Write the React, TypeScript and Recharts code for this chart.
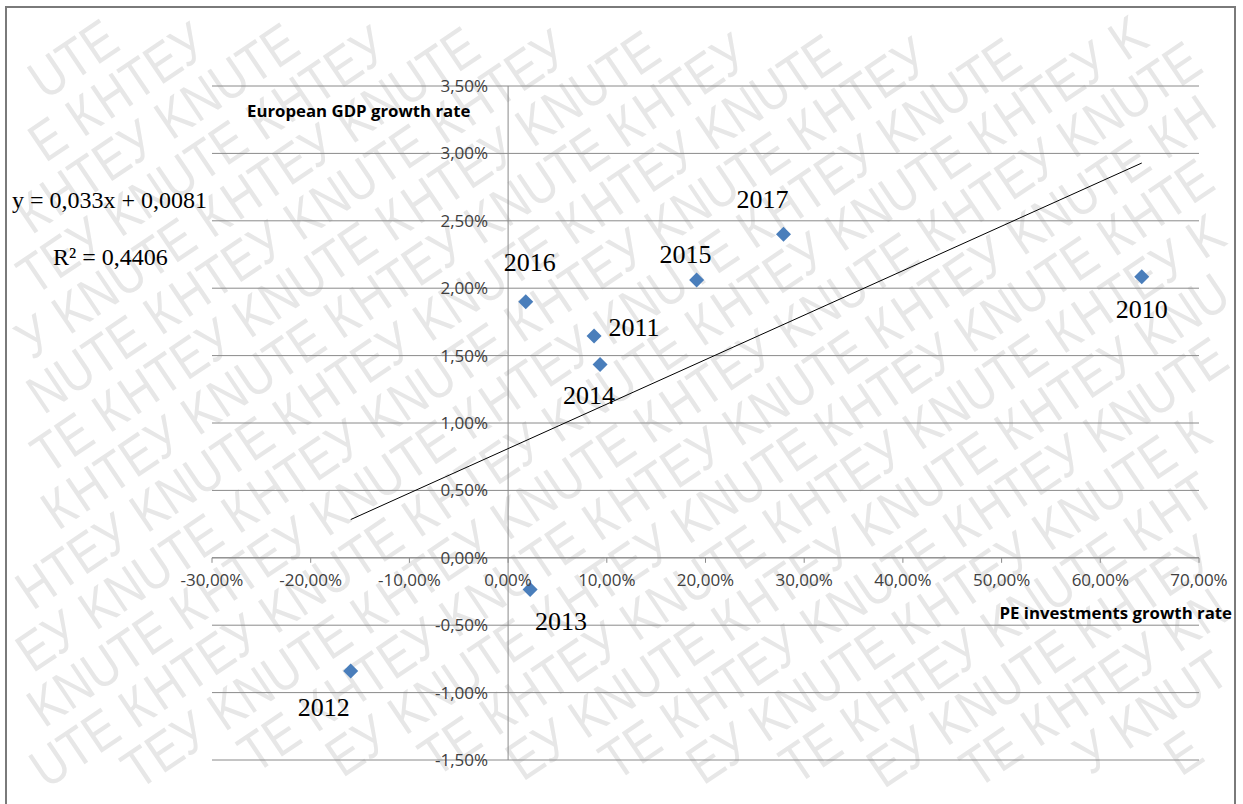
import React from 'react';
import {
  ScatterChart,
  Scatter,
  XAxis,
  YAxis,
  CartesianGrid,
  ReferenceLine,
} from 'recharts';

// Years and growth rates (fractions) for each observation
const years = ['2010', '2011', '2012', '2013', '2014', '2015', '2016', '2017'];
const peGrowth = [0.642, 0.0871, -0.1595, 0.0223, 0.0932, 0.191, 0.0179, 0.279];
const gdpGrowth = [0.02085, 0.01645, -0.0084, -0.00235, 0.01434, 0.0206, 0.019, 0.024];

// Linear trend y = a·x + b, as printed next to the chart
const TREND_SLOPE = 0.033;
const TREND_INTERCEPT = 0.0081;
const R_SQUARED = '0,4406';

// Axis ticks
const xTicks = [-0.3, -0.2, -0.1, 0, 0.1, 0.2, 0.3, 0.4, 0.5, 0.6, 0.7];
const yTicks = [-0.015, -0.01, -0.005, 0, 0.005, 0.01, 0.015, 0.02, 0.025, 0.03, 0.035];

const X_MIN = -0.3;
const X_MAX = 0.7;
const Y_MIN = -0.015;
const Y_MAX = 0.035;

// Layout
const W = 1243;
const H = 804;
const AXIS_SIZE = 1; // axes are drawn at the origin, so they take no room
const MARGIN = { top: 86, right: 44, bottom: 44 - AXIS_SIZE, left: 212 - AXIS_SIZE };
const PLOT_LEFT = 212;
const PLOT_W = W - PLOT_LEFT - 44;
const PLOT_H = H - 86 - 44;
// pixel position where the axes cross (value 0 on each axis)
const X_ZERO = PLOT_LEFT + (PLOT_W * (0 - X_MIN)) / (X_MAX - X_MIN);
const Y_ZERO = 86 + (PLOT_H * (Y_MAX - 0)) / (Y_MAX - Y_MIN);

const BLUE = '#4A7EBB';
const GRID = '#8a8a8a';
const TICK_COLOR = '#404040';
const SANS = '"Open Sans", "Noto Sans", sans-serif';
const SERIF = '"Liberation Serif", "Times New Roman", serif';

// Year label placement relative to its marker (text centre)
const labelOffset: Record<string, [number, number]> = {
  '2010': [0, 32],
  '2011': [40, -9],
  '2012': [-27, 36],
  '2013': [31, 32],
  '2014': [-11, 31],
  '2015': [-11, -26],
  '2016': [4, -40],
  '2017': [-21, -35],
};

const points = years.map((year, i) => ({ year, x: peGrowth[i], y: gdpGrowth[i] }));

const xLo = Math.min(...peGrowth);
const xHi = Math.max(...peGrowth);
const trend = [
  { x: xLo, y: TREND_SLOPE * xLo + TREND_INTERCEPT },
  { x: xHi, y: TREND_SLOPE * xHi + TREND_INTERCEPT },
];

const pct = (v: number) => {
  const s = (Math.abs(v) < 1e-12 ? 0 : v * 100).toFixed(2).replace('.', ',');
  return `${s}%`;
};

const DiamondMarker = (props: any) => {
  const { cx, cy, payload } = props;
  if (cx == null || cy == null) return <g />;
  const r = 7.5;
  const [dx, dy] = labelOffset[payload.year] || [0, 0];
  return (
    <g>
      <polygon
        points={`${cx},${cy - r} ${cx + r},${cy} ${cx},${cy + r} ${cx - r},${cy}`}
        fill={BLUE}
      />
      <text
        x={cx + dx}
        y={cy + dy + 9}
        textAnchor="middle"
        fontFamily={SERIF}
        fontSize={26}
        fill="#000"
      >
        {payload.year}
      </text>
    </g>
  );
};

const NoMarker = () => <g />;

const XTick = (props: any) => {
  const { x, payload } = props;
  return (
    <g>
      <line x1={x} x2={x} y1={Y_ZERO} y2={Y_ZERO + 5} stroke={GRID} strokeWidth={1} />
      <text
        x={x}
        y={Y_ZERO + 28}
        textAnchor="middle"
        fontFamily={SANS}
        fontSize={17}
        fill={TICK_COLOR}
      >
        {pct(payload.value)}
      </text>
    </g>
  );
};

const YTick = (props: any) => {
  const { y, payload } = props;
  return (
    <text
      x={X_ZERO - 20}
      y={y + 6}
      textAnchor="end"
      fontFamily={SANS}
      fontSize={17}
      fill={TICK_COLOR}
    >
      {pct(payload.value)}
    </text>
  );
};

// Diagonal "KNUTE КНТЕУ" watermark behind the chart.
// Laid out letter by letter so that only glyphs whose whole em box lies on the page are drawn.
const WM_PHRASE = 'KNUTE КНТЕУ ';
const WM_ANGLE = -34;
const WM_SIZE = 55;
const WM_SQUEEZE = 0.85;
const WM_ROW = 52;
const WM_ASCENT = WM_SIZE * 0.92;
const WM_DESCENT = WM_SIZE * 0.23;
const WM_ADV_EM: Record<string, number> = {
  K: 0.667, N: 0.722, U: 0.722, T: 0.611, E: 0.667,
  К: 0.667, Н: 0.722, Т: 0.611, Е: 0.667, У: 0.65, ' ': 0.3,
};

const Watermark = () => {
  const a = (WM_ANGLE * Math.PI) / 180;
  const cos = Math.cos(a);
  const sin = Math.sin(a);
  const cx = W / 2;
  const cy = H / 2;
  const toScreen = (u: number, v: number) => [cx + u * cos - v * sin, cy + u * sin + v * cos];
  const letters: React.ReactNode[] = [];
  const chars = Array.from(WM_PHRASE);
  const phraseLen = chars.reduce((s, ch) => s + WM_ADV_EM[ch] * WM_SIZE * WM_SQUEEZE, 0);
  for (let r = -16; r <= 16; r++) {
    const v = r * WM_ROW;
    let u = -1100 - ((((r * 97) % phraseLen) + phraseLen) % phraseLen);
    let k = 0;
    while (u < 1100) {
      const ch = chars[k % chars.length];
      const adv = WM_ADV_EM[ch] * WM_SIZE * WM_SQUEEZE;
      if (ch !== ' ') {
        const corners = [
          toScreen(u, v + WM_DESCENT),
          toScreen(u + adv, v + WM_DESCENT),
          toScreen(u, v - WM_ASCENT),
          toScreen(u + adv, v - WM_ASCENT),
        ];
        const inside = corners.every(([px, py]) => px >= 2 && px <= W - 2 && py >= 2 && py <= H - 2);
        if (inside) {
          const [sx, sy] = toScreen(u, v);
          letters.push(
            <text
              key={`${r}_${k}`}
              transform={`translate(${sx.toFixed(1)} ${sy.toFixed(1)}) rotate(${WM_ANGLE}) scale(${WM_SQUEEZE} 1)`}
              fontFamily='"Liberation Sans", Arial, sans-serif'
              fontSize={WM_SIZE}
              fill="#e7e7e7"
            >
              {ch}
            </text>
          );
        }
      }
      u += adv;
      k += 1;
    }
  }
  return (
    <svg width={W} height={H} style={{ position: 'absolute', left: 0, top: 0 }}>
      <rect x={0} y={0} width={W} height={H} fill="#fff" />
      <g>{letters}</g>
      <rect x={6} y={7} width={1229} height={820} fill="none" stroke="#7a7a7a" strokeWidth={2} />
    </svg>
  );
};

export default function App() {
  return (
    <div style={{ position: 'absolute', left: 0, top: 0, width: W, height: H, overflow: 'hidden' }}>
      <Watermark />
      <div style={{ position: 'absolute', left: 0, top: 0 }}>
        <ScatterChart width={W} height={H} margin={MARGIN}>
          <CartesianGrid vertical={false} stroke={GRID} strokeWidth={1} />
          <XAxis
            type="number"
            dataKey="x"
            domain={[X_MIN, X_MAX]}
            ticks={xTicks}
            interval={0}
            height={AXIS_SIZE}
            axisLine={false}
            tickLine={false}
            tick={<XTick />}
            allowDataOverflow
          />
          <YAxis
            type="number"
            dataKey="y"
            domain={[Y_MIN, Y_MAX]}
            ticks={yTicks}
            interval={0}
            width={AXIS_SIZE}
            axisLine={false}
            tickLine={false}
            tick={<YTick />}
            allowDataOverflow
          />
          <ReferenceLine x={0} stroke={GRID} strokeWidth={1} />
          <ReferenceLine y={0} stroke={GRID} strokeWidth={1} />
          <Scatter
            data={trend}
            line={{ stroke: '#000', strokeWidth: 1 }}
            shape={<NoMarker />}
            isAnimationActive={false}
          />
          <Scatter data={points} shape={<DiamondMarker />} isAnimationActive={false} />
          <text x={247} y={117} fontFamily={SANS} fontWeight={700} fontSize={16.8} fill="#000">
            European GDP growth rate
          </text>
          <text
            x={1232}
            y={619}
            textAnchor="end"
            fontFamily={SANS}
            fontWeight={700}
            fontSize={16.8}
            fill="#000"
          >
            PE investments growth rate
          </text>
          <text x={12} y={208} fontFamily={SERIF} fontSize={24} fill="#000">
            y = 0,033x + 0,0081
          </text>
          <text x={53} y={265} fontFamily={SERIF} fontSize={24} fill="#000">
            {`R² = ${R_SQUARED}`}
          </text>
        </ScatterChart>
      </div>
    </div>
  );
}
